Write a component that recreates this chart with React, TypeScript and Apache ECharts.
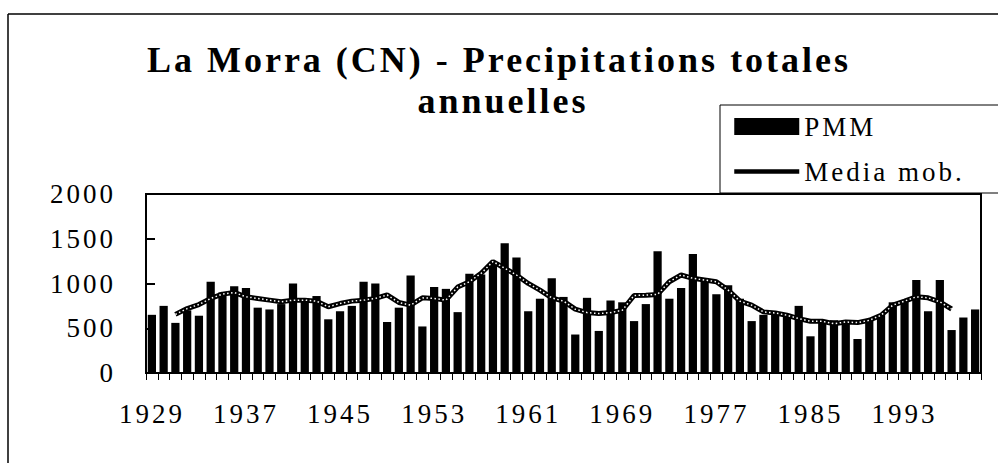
import React, { useEffect, useRef } from "react";
import * as echarts from "echarts";

const years: string[] = [
  "1929","1930","1931","1932","1933","1934","1935","1936","1937","1938",
  "1939","1940","1941","1942","1943","1944","1945","1946","1947","1948",
  "1949","1950","1951","1952","1953","1954","1955","1956","1957","1958",
  "1959","1960","1961","1962","1963","1964","1965","1966","1967","1968",
  "1969","1970","1971","1972","1973","1974","1975","1976","1977","1978",
  "1979","1980","1981","1982","1983","1984","1985","1986","1987","1988",
  "1989","1990","1991","1992","1993","1994","1995","1996","1997","1998","1999",
];

const pmm: number[] = [
  650, 750, 560, 700, 640, 1020, 900, 970, 950, 730,
  710, 770, 1000, 810, 860, 600, 690, 750, 1020, 1000,
  570, 730, 1090, 520, 960, 940, 680, 1110, 1100, 1220,
  1450, 1290, 690, 830, 1060, 850, 430, 840, 470, 810,
  790, 580, 770, 1360, 830, 950, 1330, 1050, 880, 980,
  830, 580, 650, 650, 640, 750, 410, 580, 590, 590,
  380, 590, 650, 790, 800, 1040, 690, 1040, 480, 620, 710,
];

const mediaMob: (number | null)[] = [
  null, null, 655, 720, 765, 833, 881, 900, 851, 833,
  814, 795, 814, 814, 803, 740, 776, 803, 814, 833,
  872, 788, 758, 840, 833, 814, 960, 1020, 1114, 1245,
  1170, 1095, 1001, 926, 840, 803, 713, 675, 664, 675,
  701, 866, 870, 878, 1020, 1095, 1058, 1039, 1020, 926,
  803, 758, 683, 671, 645, 608, 578, 578, 551, 570,
  563, 589, 645, 758, 803, 851, 840, 795, 715, null, null,
];

const titleLines: string[] = ["La Morra (CN) - Precipitations totales", "annuelles"];

const yTicks = { min: 0, max: 2000, interval: 500 };

const SERIF = "'Liberation Serif', 'Times New Roman', serif";

export default function App() {
  const ref = useRef<HTMLDivElement>(null);

  useEffect(() => {
    if (!ref.current) return;
    const chart = echarts.init(ref.current, undefined, { renderer: "svg" });
    chart.setOption({
      animation: false,
      backgroundColor: "#fff",
      legend: {
        data: [
          { name: "PMM", icon: "rect" },
          { name: "Media mob.", itemStyle: { opacity: 0 }, lineStyle: { width: 4.5, color: "#000" } },
        ],
        orient: "vertical",
        left: 720,
        top: 105,
        padding: [8, 90, 8, 12],
        itemWidth: 65,
        itemHeight: 17,
        itemGap: 18,
        borderColor: "#000",
        borderWidth: 1,
        textStyle: { fontFamily: SERIF, fontSize: 27, color: "#000" },
      },
      graphic: [
        { type: "line", shape: { x1: 8, y1: 14, x2: 998, y2: 14 }, style: { stroke: "#000", lineWidth: 1.5 } },
        { type: "line", shape: { x1: 8, y1: 14, x2: 8, y2: 463 }, style: { stroke: "#000", lineWidth: 1.5 } },
        {
          type: "text",
          x: 499,
          y: 60,
          style: {
            text: titleLines[0],
            fill: "#000",
            font: "bold 36px " + SERIF,
            textAlign: "center",
            textVerticalAlign: "middle",
          },
        },
        {
          type: "text",
          x: 503,
          y: 101,
          style: {
            text: titleLines[1],
            fill: "#000",
            font: "bold 36px " + SERIF,
            textAlign: "center",
            textVerticalAlign: "middle",
          },
        },
      ],
      grid: {
        left: 146,
        right: 17,
        top: 194,
        bottom: 90,
        show: true,
        borderColor: "#000",
        borderWidth: 2,
        backgroundColor: "transparent",
      },
      xAxis: {
        type: "category",
        data: years,
        boundaryGap: true,
        axisLine: { lineStyle: { color: "#000", width: 2 } },
        axisTick: { show: true, interval: 0, length: 7, lineStyle: { color: "#000", width: 1 } },
        axisLabel: {
          interval: 7,
          margin: 27,
          fontFamily: SERIF,
          fontSize: 27,
          color: "#000",
        },
        splitLine: { show: false },
      },
      yAxis: {
        type: "value",
        min: yTicks.min,
        max: yTicks.max,
        interval: yTicks.interval,
        axisLine: { show: true, lineStyle: { color: "#000", width: 2 } },
        axisTick: { show: true, inside: true, length: 9, lineStyle: { color: "#000", width: 2 } },
        axisLabel: {
          margin: 30,
          fontFamily: SERIF,
          fontSize: 27,
          color: "#000",
          formatter: (v: number) => String(v),
        },
        splitLine: { show: false },
      },
      series: [
        {
          name: "PMM",
          type: "bar",
          data: pmm,
          barCategoryGap: "30%",
          itemStyle: { color: "#000" },
        },
        {
          name: "Media mob.",
          type: "line",
          data: mediaMob,
          symbol: "none",
          connectNulls: false,
          lineStyle: { color: "#000", width: 5 },
          itemStyle: { color: "#000" },
          z: 3,
        },
        {
          name: "mm-inner",
          type: "line",
          data: mediaMob,
          symbol: "none",
          lineStyle: { color: "#fff", width: 1.5, type: [1.5, 2.5] },
          z: 4,
          silent: true,
        },
      ],
    });
    return () => chart.dispose();
  }, []);

  return (
    <div
      ref={ref}
      style={{
        position: "fixed",
        left: 0,
        top: 0,
        width: 998,
        height: 463,
        letterSpacing: "3px",
      }}
    />
  );
}
